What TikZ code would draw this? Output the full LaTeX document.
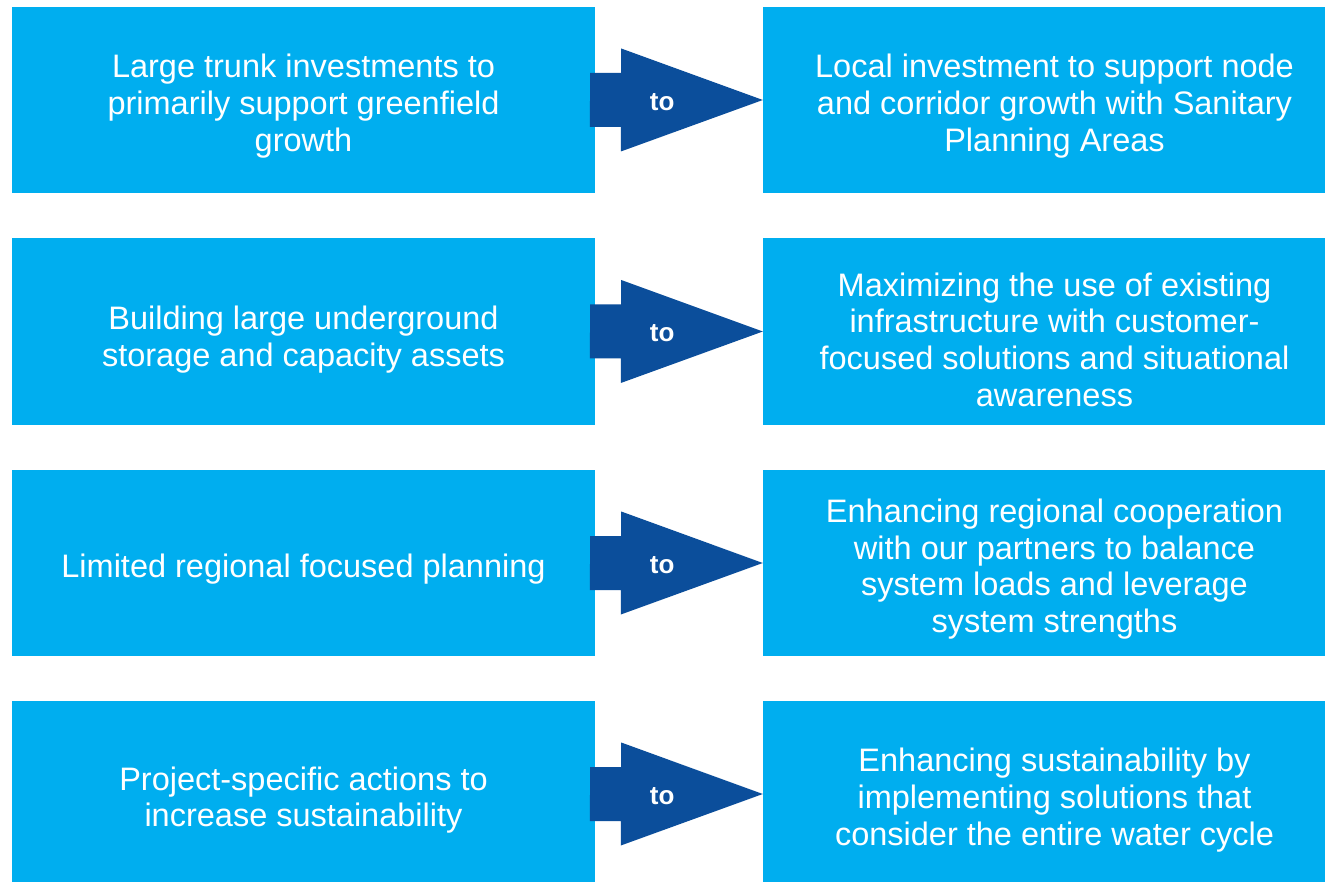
\documentclass[tikz,border=0pt]{standalone}
\usepackage{fontspec}
\setmainfont{Liberation Sans}
\definecolor{boxblue}{HTML}{00AEEF}
\definecolor{arrowblue}{HTML}{0B4E9B}
\begin{document}
\begin{tikzpicture}[x=1pt,y=-1pt,
  box/.style={fill=boxblue, draw=none, minimum width=583pt, minimum height=186pt,
    inner sep=0pt},
  boxtext/.style={text=white, align=center, inner sep=0pt,
    font=\fontsize{32.5pt}{36.7pt}\selectfont},
  arrowfill/.style={fill=arrowblue, draw=none},
  tolabel/.style={text=white, inner sep=0pt, font=\fontsize{26pt}{30pt}\selectfont\bfseries}]
\useasboundingbox (0,0) rectangle (1325,882);
\clip (0,0) rectangle (1325,882);
\fill[white] (0,0) rectangle (1325,882);

\node[box] (L1) at (303.5,100) {};
\node[box] (R1) at (1054.5,100) {};
\node[box] (L2) at (303.5,331.5) {};
\node[box] (R2) at (1054.5,331.5) {};
\node[box] (L3) at (303.5,563) {};
\node[box] (R3) at (1054.5,563) {};
\node[box] (L4) at (303.5,794) {};
\node[box] (R4) at (1054.5,794) {};

\node[boxtext] (L1t) at ([yshift=-6pt]L1.center) {Large trunk investments to\\primarily support greenfield\\growth};
\node[boxtext] (R1t) at ([yshift=-6pt]R1.center) {Local investment to support node\\and corridor growth with Sanitary\\Planning Areas};
\node[boxtext] (L2t) at ([yshift=-8pt]L2.center) {Building large underground\\storage and capacity assets};
\node[boxtext] (R2t) at ([yshift=-8pt]R2.center) {Maximizing the use of existing\\infrastructure with customer-\\focused solutions and situational\\awareness};
\node[boxtext] (L3t) at ([yshift=-6pt]L3.center) {Limited regional focused planning};
\node[boxtext] (R3t) at ([yshift=-6pt]R3.center) {Enhancing regional cooperation\\with our partners to balance\\system loads and leverage\\system strengths};
\node[boxtext] (L4t) at ([yshift=-6pt]L4.center) {Project-specific actions to\\increase sustainability};
\node[boxtext] (R4t) at ([yshift=-6pt]R4.center) {Enhancing sustainability by\\implementing solutions that\\consider the entire water cycle};

\foreach \i in {1,2,3,4}{
  \coordinate (A\i) at ([xshift=-5pt]L\i.east);
  \fill[arrowfill] (A\i) ++(0,-27) -- ++(31,0) -- ++(0,-24.5)
     -- (R\i.west) -- ++(-142,51.5) -- ++(0,-24.5) -- ++(-31,0) -- cycle;
  \node[tolabel] (T\i) at ([xshift=67pt,yshift=-2pt]L\i.east) {to};
}
\end{tikzpicture}
\end{document}
